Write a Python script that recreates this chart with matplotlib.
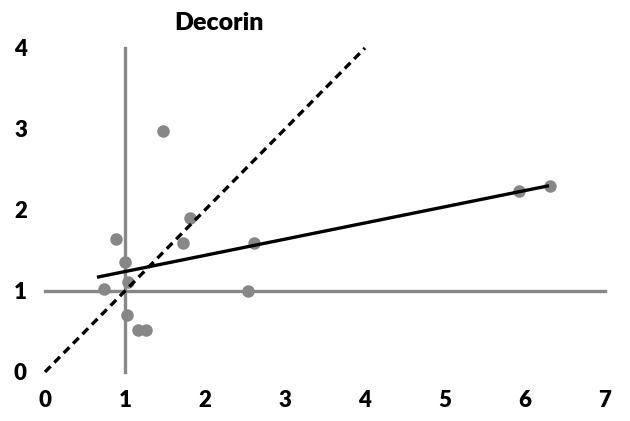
import numpy as np
import matplotlib.pyplot as plt

plt.rcParams['font.family'] = ['Lato', 'DejaVu Sans']

# measurements
x_vals = [0.74, 0.89, 1.00, 1.04, 1.02, 1.16, 1.26, 1.47, 1.73, 1.81, 2.61, 2.54, 5.93, 6.31]
y_vals = [1.02, 1.64, 1.36, 1.11, 0.70, 0.52, 0.52, 2.97, 1.59, 1.90, 1.59, 1.00, 2.23, 2.30]

# linear trend and identity line
trend_slope = 0.20
trend_intercept = 1.04
trend_x = [0.65, 6.3]
identity_x = [0, 4]

xticks = [0, 1, 2, 3, 4, 5, 6, 7]
yticks = [0, 1, 2, 3, 4]

fig = plt.figure(figsize=(6.3, 4.21), dpi=100)
ax = fig.add_axes([0.0714, 0.1164, 0.8889, 0.7696])

grey = '#878787'
ax.plot([0, 7], [1, 1], color=grey, lw=2.4, clip_on=False, zorder=1)
ax.plot([1, 1], [0, 4], color=grey, lw=2.4, clip_on=False, zorder=1)

ax.plot(x_vals, y_vals, 'o', color=grey, ms=9, mec='none', zorder=2, clip_on=False)

tx = np.array(trend_x)
ax.plot(tx, trend_slope * tx + trend_intercept, color='black', lw=2.4, zorder=3,
        solid_capstyle='butt')
ix = np.array(identity_x)
ax.plot(ix, ix, color='black', lw=2.4, ls=(0, (2.4, 1.6)), zorder=3, clip_on=False)

ax.set_xlim(0, 7)
ax.set_ylim(0, 4)
ax.set_xticks(xticks)
ax.set_yticks(yticks)
ax.tick_params(length=0, labelsize=16)
ax.tick_params(axis='y', pad=13)
ax.tick_params(axis='x', pad=13)
for lbl in ax.get_xticklabels() + ax.get_yticklabels():
    lbl.set_fontweight('heavy')
for s in ax.spines.values():
    s.set_visible(False)

fig.text(0.348, 0.945, 'Decorin', ha='center', va='center', fontsize=18, fontweight='heavy')

fig.savefig('out.png', dpi=100)
